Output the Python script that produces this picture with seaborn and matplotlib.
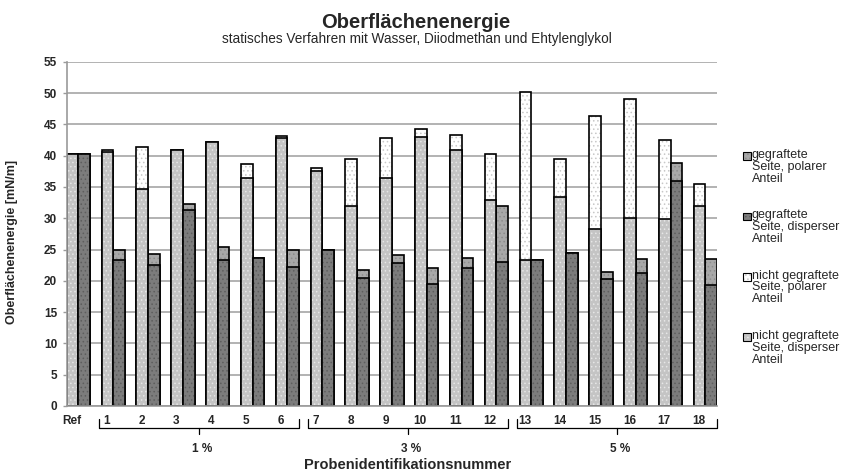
import numpy as np
import pandas as pd
import matplotlib.pyplot as plt
import matplotlib.colors as mcolors
from matplotlib.patches import Rectangle
from matplotlib.transforms import ScaledTranslation
import seaborn as sns

# ========== Daten ==========
proben = ["Ref"] + [str(i) for i in range(1, 19)]

# nicht gegraftete Seite
ng_dispers = [40.2, 40.6, 34.6, 40.9, 42.1, 36.5, 42.8, 37.6, 31.9, 36.5,
              43.0, 40.9, 32.9, 23.3, 33.4, 28.2, 30.0, 29.9, 31.9]
ng_polar = [0.0, 0.3, 6.8, 0.0, 0.0, 2.2, 0.3, 0.4, 7.5, 6.3,
            1.2, 2.4, 7.3, 26.8, 6.0, 18.2, 19.0, 12.6, 3.5]

# gegraftete Seite
g_dispers = [40.2, 23.4, 22.6, 31.3, 23.4, 23.6, 22.2, 24.9, 20.5, 22.8,
             19.5, 22.0, 23.0, 23.3, 24.5, 20.3, 21.2, 36.0, 19.4]
g_polar = [0.0, 1.5, 1.7, 0.9, 2.0, 0.1, 2.8, 0.0, 1.2, 1.4,
           2.5, 1.6, 8.9, 0.0, 0.0, 1.1, 2.3, 2.9, 4.1]

gruppen = ["1 %", "3 %", "5 %"]
gruppen_bereich = [("1", "6"), ("7", "12"), ("13", "18")]

legend_labels = ["gegraftete\nSeite, polarer\nAnteil",
                 "gegraftete\nSeite, disperser\nAnteil",
                 "nicht gegraftete\nSeite, polarer\nAnteil",
                 "nicht gegraftete\nSeite, disperser\nAnteil"]

# ========== Farben ==========
C_NG_POL = "#ffffff"
C_NG_DIS = "#c4c4c4"
C_G_POL = "#a8a8a8"
C_G_DIS = "#7c7c7c"
HATCH = {C_NG_POL: ("....", "#c8c8c8"), C_NG_DIS: ("....", "#e6e6e6"),
         C_G_POL: ("....", "#8c8c8c"), C_G_DIS: ("....", "#5e5e5e")}

df = pd.DataFrame({
    "Probe": proben * 2,
    "Seite": ["nicht"] * len(proben) + ["gegraftet"] * len(proben),
    "dispers": ng_dispers + g_dispers,
    "polar": ng_polar + g_polar,
})
df["gesamt"] = df["dispers"] + df["polar"]

# ========== Stil ==========
sns.set_style("white")
plt.rcParams["font.family"] = ["Liberation Sans", "DejaVu Sans"]
plt.rcParams["hatch.linewidth"] = 0.6

fig = plt.figure(figsize=(8.56, 4.75), dpi=100)
ax = fig.add_axes([0.078, 0.1453, 0.7598, 0.7247])

common = dict(x="Probe", hue="Seite", order=proben, hue_order=["nicht", "gegraftet"],
              width=0.67, gap=0, dodge=True, errorbar=None, legend=False,
              edgecolor="black", linewidth=1.2, ax=ax)
sns.barplot(data=df, y="gesamt", palette={"nicht": C_NG_POL, "gegraftet": C_G_POL}, **common)
sns.barplot(data=df, y="dispers", palette={"nicht": C_NG_DIS, "gegraftet": C_G_DIS}, **common)

# Punktraster wie im Original
for p in ax.patches:
    fc = mcolors.to_hex(p.get_facecolor())
    if fc in HATCH:
        h, hc = HATCH[fc]
        p.set_hatch(h)
        p._hatch_color = mcolors.to_rgba(hc)

ax.set_xlim(-0.335, len(proben) - 1 + 0.335)
ax.set_ylim(0, 55)
ax.set_yticks(np.arange(0, 56, 5))
ax.yaxis.grid(True, color="#a6a6a6", linewidth=1.2)
ax.set_axisbelow(True)
for s in ["top", "right"]:
    ax.spines[s].set_visible(False)
for s in ["left", "bottom"]:
    ax.spines[s].set_color("#9a9a9a")
    ax.spines[s].set_linewidth(1.2)
ax.tick_params(axis="y", left=True, length=3, width=1, color="#9a9a9a",
               labelsize=8.5, pad=4)
ax.tick_params(axis="x", bottom=False, labelsize=8.5, pad=3)
shift = ScaledTranslation(-6.5 / 100, 0, fig.dpi_scale_trans)
for t in ax.get_xticklabels():
    t.set_fontweight("bold")
    t.set_transform(t.get_transform() + shift)
for t in ax.get_yticklabels():
    t.set_fontweight("bold")

ax.set_xlabel("")
ax.set_ylabel("Oberflächenenergie [mN/m]", fontsize=9, fontweight="bold")
ax.yaxis.set_label_coords(-0.075, 0.477)

# Klammern unter den Gruppen
trans = ax.get_xaxis_transform()
pos = {p: i for i, p in enumerate(proben)}
for name, (a, b) in zip(gruppen, gruppen_bereich):
    x0 = pos[a] - 0.42
    x1 = pos[b] + 0.32
    xm = (x0 + x1) / 2
    ax.plot([x0, x0, x1, x1], [-0.037, -0.065, -0.065, -0.037], transform=trans,
            color="black", linewidth=0.9, clip_on=False)
    ax.plot([xm, xm], [-0.065, -0.082], transform=trans,
            color="black", linewidth=0.9, clip_on=False)
    ax.text(xm + 0.1, -0.124, name, transform=trans, ha="center", va="center",
            fontsize=8.5, fontweight="bold")

fig.text(0.476, 0.021, "Probenidentifikationsnummer", ha="center", va="center",
         fontsize=10.5, fontweight="bold")

# Titel
fig.text(0.486, 0.953, "Oberflächenenergie", ha="center", va="center",
         fontsize=14.5, fontweight="bold")
fig.text(0.487, 0.918, "statisches Verfahren mit Wasser, Diiodmethan und Ehtylenglykol",
         ha="center", va="center", fontsize=9.8)

# Legende
leg_cols = [C_G_POL, C_G_DIS, C_NG_POL, C_NG_DIS]
for k, (lab, col) in enumerate(zip(legend_labels, leg_cols)):
    ymid = 1 - (156 + k * 60.3) / 475
    r = Rectangle((743 / 856, ymid - 4 / 475), 7.5 / 856, 7.5 / 475, transform=fig.transFigure,
                  facecolor=col, edgecolor="black", linewidth=0.8)
    r.set_hatch(HATCH[col][0])
    r._hatch_color = mcolors.to_rgba(HATCH[col][1])
    fig.patches.append(r)
    fig.text(752 / 856, ymid + 7 / 475, lab, ha="left", va="top", fontsize=9,
             linespacing=0.98)

fig.savefig("out.png", dpi=100)
